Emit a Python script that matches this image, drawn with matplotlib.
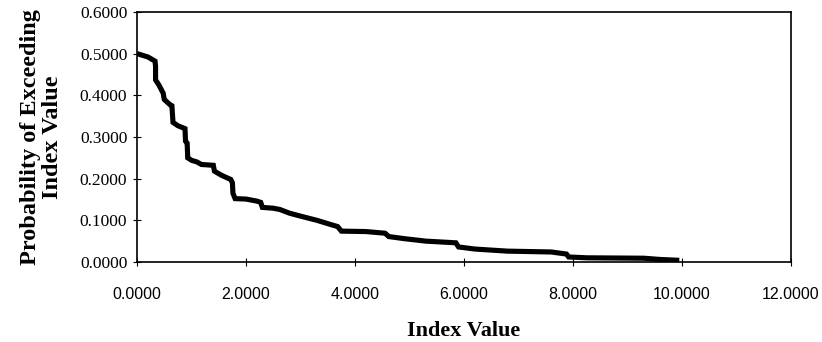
import matplotlib
matplotlib.use('agg')
import matplotlib.pyplot as plt

# exceedance curve
index_value = [0.00, 0.20, 0.33, 0.34, 0.34, 0.40, 0.48, 0.50, 0.60, 0.64,
               0.66, 0.75, 0.88, 0.89, 0.92, 0.93, 1.00, 1.10, 1.18, 1.40,
               1.42, 1.55, 1.72, 1.75, 1.76, 1.80, 2.00, 2.20, 2.27, 2.30,
               2.50, 2.62, 2.80, 3.00, 3.30, 3.55, 3.68, 3.75, 4.20, 4.55,
               4.62, 4.90, 5.30, 5.85, 5.90, 6.20, 6.80, 7.60, 7.88, 7.92,
               8.25, 9.30, 9.60, 9.95]
exceed_prob = [0.500, 0.492, 0.482, 0.470, 0.437, 0.425, 0.405, 0.390, 0.378, 0.375,
               0.335, 0.327, 0.320, 0.290, 0.285, 0.250, 0.244, 0.240, 0.234, 0.232,
               0.218, 0.208, 0.198, 0.190, 0.165, 0.152, 0.151, 0.146, 0.143, 0.131,
               0.129, 0.126, 0.117, 0.110, 0.100, 0.090, 0.085, 0.074, 0.073, 0.069,
               0.061, 0.056, 0.050, 0.046, 0.036, 0.031, 0.026, 0.024, 0.019, 0.012,
               0.010, 0.009, 0.006, 0.004]

x_ticks = [0, 2, 4, 6, 8, 10, 12]
y_ticks = [0.0, 0.1, 0.2, 0.3, 0.4, 0.5, 0.6]

fig = plt.figure(figsize=(8.22, 3.42), dpi=100)
ax = fig.add_axes([0.1667, 0.234, 0.7956, 0.731])

ax.plot(index_value, exceed_prob, color='black', lw=3.7,
        solid_joinstyle='miter', solid_capstyle='butt')

ax.set_xlim(0, 12)
ax.set_ylim(0, 0.6)
ax.set_xticks(x_ticks)
ax.set_yticks(y_ticks)
ax.set_xticklabels(['%.4f' % v for v in x_ticks],
                   family='Liberation Sans', fontsize=11.5)
ax.set_yticklabels(['%.4f' % v for v in y_ticks],
                   family='Liberation Serif', fontsize=12.5)
ax.tick_params(direction='inout', length=6, width=0.8, color='black')
ax.tick_params(axis='x', pad=15)
ax.tick_params(axis='y', pad=4)

for side in ['top', 'right', 'bottom', 'left']:
    ax.spines[side].set_linestyle((0, (1, 1)))
    ax.spines[side].set_linewidth(1.2)
    ax.spines[side].set_color('black')

ax.set_xlabel('Index Value', family='Liberation Serif', fontweight='bold',
              fontsize=16, labelpad=14)
ax.set_ylabel('Probability of Exceeding\nIndex Value', family='Liberation Serif',
              fontweight='bold', fontsize=17.5, labelpad=12, linespacing=1.05)

plt.savefig('out.png', dpi=100)
